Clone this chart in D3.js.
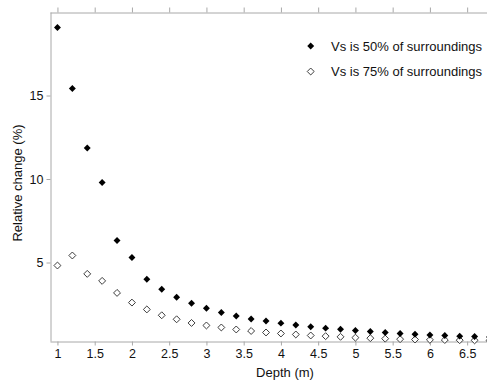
<!DOCTYPE html>
<html><head><meta charset="utf-8">
<script src="https://cdn.jsdelivr.net/npm/d3@7"></script>
<style>body{margin:0;background:#fff;}svg{display:block;font-family:"Liberation Sans",Arial,sans-serif;}</style>
</head><body><svg id="c" width="487" height="382"></svg>
<script>
const depths = [1,1.2,1.4,1.6,1.8,2,2.2,2.4,2.6,2.8,3,3.2,3.4,3.6,3.8,4,4.2,4.4,4.6,4.8,5,5.2,5.4,5.6,5.8,6,6.2,6.4,6.6,6.8];
const vs50 = [19.07,15.42,11.86,9.79,6.32,5.30,4.00,3.40,2.92,2.56,2.26,2.01,1.80,1.62,1.50,1.37,1.26,1.15,1.07,1.00,0.93,0.87,0.81,0.75,0.70,0.66,0.63,0.59,0.57,0.54];
const vs75 = [4.82,5.42,4.32,3.90,3.18,2.60,2.19,1.84,1.60,1.38,1.23,1.11,0.99,0.90,0.81,0.75,0.69,0.63,0.59,0.55,0.50,0.47,0.44,0.41,0.39,0.37,0.36,0.35,0.34,0.33];
const xTicks = [1,1.5,2,2.5,3,3.5,4,4.5,5,5.5,6,6.5];
const yTicks = [5,10,15];
const seriesNames = ["Vs is 50% of surroundings","Vs is 75% of surroundings"];

const svg = d3.select("#c");
const x = d3.scaleLinear().domain([0.9, 6.8]).range([50, 489.5]);
const y = d3.scaleLinear().domain([0.3, 20]).range([341, 12]);
const axisCol = "#a8a8a8", txtCol = "#111";

function styleAxis(g){
  g.selectAll("path").attr("stroke", axisCol).attr("stroke-width",1);
  g.selectAll("line").attr("stroke", axisCol);
  g.selectAll("text").attr("fill", txtCol).style("font-size","12.5px").style("font-family",'"Liberation Sans",Arial,sans-serif');
}
svg.append("g").attr("transform","translate(0,341.5)")
  .call(d3.axisBottom(x).tickValues(xTicks).tickSize(4).tickSizeOuter(0).tickPadding(4).tickFormat(d3.format("")))
  .call(styleAxis);
svg.append("g").attr("transform","translate(0,12.5)")
  .call(d3.axisTop(x).tickValues(xTicks).tickSize(5).tickSizeOuter(0).tickFormat(""))
  .call(styleAxis);
svg.append("g").attr("transform","translate(50.5,0)")
  .call(d3.axisLeft(y).tickValues(yTicks).tickSize(4).tickSizeOuter(0).tickPadding(3))
  .call(styleAxis);

svg.append("text").attr("x",285).attr("y",377).attr("text-anchor","middle")
  .attr("fill",txtCol).style("font-size","13px").text("Depth (m)");
svg.append("text").attr("transform","translate(22,183) rotate(-90)").attr("text-anchor","middle")
  .attr("fill",txtCol).style("font-size","13px").text("Relative change (%)");

const sym = d3.symbol().type(d3.symbolSquare).size(24);
svg.append("g").selectAll("path").data(depths.map((d,i)=>[d,vs75[i]])).join("path")
  .attr("d", sym).attr("transform", d=>`translate(${x(d[0])},${y(d[1])}) rotate(45)`)
  .attr("fill","#fff").attr("stroke","#333").attr("stroke-width",0.9);
svg.append("g").selectAll("path").data(depths.map((d,i)=>[d,vs50[i]])).join("path")
  .attr("d", sym).attr("transform", d=>`translate(${x(d[0])},${y(d[1])}) rotate(45)`)
  .attr("fill","#000");

const lg = svg.append("g");
[0,1].forEach(i=>{
  const yy = 46 + i*25.5;
  lg.append("path").attr("d", sym).attr("transform",`translate(310.7,${yy}) rotate(45)`)
    .attr("fill", i===0?"#000":"#fff").attr("stroke", i===0?"none":"#333").attr("stroke-width",0.9);
  lg.append("text").attr("x",331).attr("y",yy+4.5).attr("fill",txtCol).style("font-size","13px").text(seriesNames[i]);
});
</script></body></html>
